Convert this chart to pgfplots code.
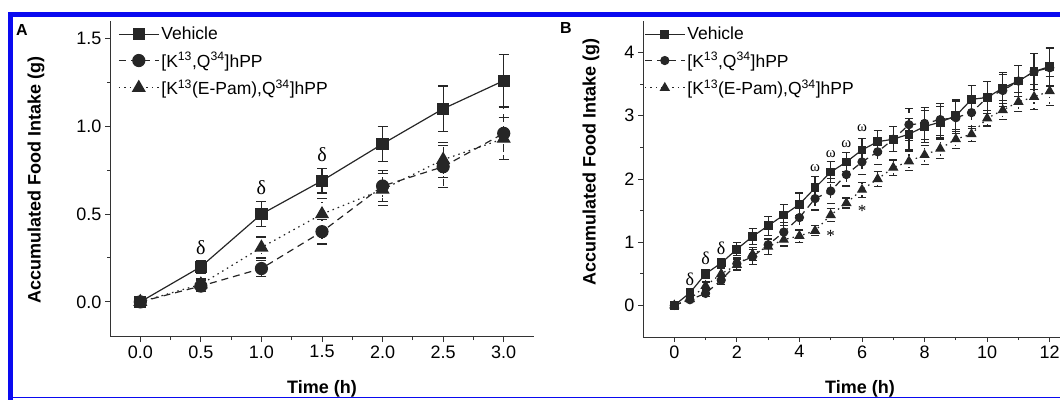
\documentclass[border=0pt]{standalone}
\usepackage{pgfplots}
\pgfplotsset{compat=1.18}
\usepackage{fontspec}
\setmainfont{Liberation Sans}
\newfontfamily\sergreek{Liberation Serif}
\definecolor{frameblue}{RGB}{10,10,240}
\tikzset{ann/.style={font=\sergreek\fontsize{#1}{#1}\selectfont, inner sep=0pt}}
\begin{document}
\begin{tikzpicture}[x=1pt,y=1pt]
\path[use as bounding box] (0,0) rectangle (1060,399);
\clip (0,0) rectangle (1060,399);
\pgfplotsset{
  every axis/.append style={
    scale only axis,
    axis x line*=bottom, axis y line*=left,
    axis line style={line width=1pt, black!80},
    tick align=outside,
    major tick length=5pt, minor tick length=3pt,
    every tick/.style={line width=1pt, black!80},
    minor x tick num=1, minor y tick num=1,
    ticklabel style={font=\fontsize{18}{18}\selectfont},
    /pgf/number format/assume math mode=true,
    legend cell align=left,
    legend image code/.code={\draw[mark repeat=2,mark phase=2,##1] plot coordinates {(0pt,0pt) (20pt,0pt) (40pt,0pt)};},
    error bars/y dir=both, error bars/y explicit,
    error bars/error bar style={line width=1.2pt, black!85},
  },
  veh/.style={black!85, line width=1.2pt, solid, mark=square*, mark options={solid, fill=black!85}},
  kq/.style={black!85, line width=1.2pt, dash pattern=on 7pt off 5pt, mark=*, mark options={solid, fill=black!85}},
  ep/.style={black!85, line width=1.2pt, dash pattern=on 1.5pt off 4pt, mark=triangle*, mark options={solid, fill=black!85}},
}
% ---------------- Panel A ----------------
\begin{axis}[
  at={(110pt,62pt)}, anchor=south west,
  width=424pt, height=316pt,
  xmin=-0.25, xmax=3.25, ymin=-0.2, ymax=1.6,
  xtick={0,0.5,...,3}, ytick={0,0.5,1,1.5},
  /pgf/number format/.cd, fixed, fixed zerofill, precision=1, /pgfplots/.cd,
  error bars/error mark options={rotate=90, mark size=5pt, line width=1.2pt, black!85},
  legend style={draw=none, fill=none, at={(rel axis cs:0,1)}, anchor=north west,
    xshift=5pt, yshift=-2pt, font=\fontsize{17.5}{17.5}\selectfont, row sep=7pt},
]
\addplot+[veh, mark size=5.5pt] coordinates {
 (0,0) +- (0,0) (0.5,0.20) +- (0,0.035) (1.0,0.50) +- (0,0.07) (1.5,0.69) +- (0,0.07)
 (2.0,0.90) +- (0,0.10) (2.5,1.10) +- (0,0.13) (3.0,1.26) +- (0,0.15)};
\addlegendentry{Vehicle}
\addplot+[kq, mark size=6pt] coordinates {
 (0,0) +- (0,0) (0.5,0.09) +- (0,0.03) (1.0,0.19) +- (0,0.045) (1.5,0.40) +- (0,0.07)
 (2.0,0.66) +- (0,0.09) (2.5,0.77) +- (0,0.12) (3.0,0.96) +- (0,0.15)};
\addlegendentry{[K\textsuperscript{13},Q\textsuperscript{34}]hPP}
\addplot+[ep, mark size=7pt] coordinates {
 (0,0) +- (0,0) (0.5,0.10) +- (0,0.03) (1.0,0.31) +- (0,0.06) (1.5,0.50) +- (0,0.09)
 (2.0,0.64) +- (0,0.09) (2.5,0.81) +- (0,0.10) (3.0,0.93) +- (0,0.12)};
\addlegendentry{[K\textsuperscript{13}(E-Pam),Q\textsuperscript{34}]hPP}
\node[ann=20] at (axis cs:0.5,0.31) {δ};
\node[ann=20] at (axis cs:1.0,0.65) {δ};
\node[ann=20] at (axis cs:1.5,0.84) {δ};
\end{axis}
% ---------------- Panel B ----------------
\begin{axis}[
  at={(643pt,62pt)}, anchor=south west,
  width=438pt, height=316pt,
  xmin=-1, xmax=13, ymin=-0.5, ymax=4.5,
  xtick={0,2,...,12}, ytick={0,1,2,3,4},
  error bars/error mark options={rotate=90, mark size=4pt, line width=1.2pt, black!85},
  legend style={draw=none, fill=none, at={(rel axis cs:0,1)}, anchor=north west,
    xshift=-2pt, yshift=-2pt, font=\fontsize{17.5}{17.5}\selectfont, row sep=7pt},
]
\addplot+[veh, mark size=3.8pt] coordinates {
 (0,0) +- (0,0) (0.5,0.20) +- (0,0.04) (1,0.50) +- (0,0.07) (1.5,0.67) +- (0,0.07)
 (2,0.89) +- (0,0.10) (2.5,1.09) +- (0,0.13) (3,1.26) +- (0,0.15) (3.5,1.43) +- (0,0.17)
 (4,1.60) +- (0,0.18) (4.5,1.86) +- (0,0.18) (5,2.11) +- (0,0.17) (5.5,2.27) +- (0,0.15)
 (6,2.46) +- (0,0.18) (6.5,2.59) +- (0,0.18) (7,2.63) +- (0,0.20) (7.5,2.71) +- (0,0.25)
 (8,2.83) +- (0,0.25) (8.5,2.90) +- (0,0.25) (9,3.00) +- (0,0.25) (9.5,3.26) +- (0,0.22)
 (10,3.29) +- (0,0.25) (10.5,3.44) +- (0,0.25) (11,3.55) +- (0,0.25) (11.5,3.70) +- (0,0.28)
 (12,3.78) +- (0,0.30)};
\addlegendentry{Vehicle}
\addplot+[kq, mark size=4pt] coordinates {
 (0,0) +- (0,0) (0.5,0.09) +- (0,0.03) (1,0.19) +- (0,0.045) (1.5,0.40) +- (0,0.07)
 (2,0.66) +- (0,0.09) (2.5,0.77) +- (0,0.12) (3,0.96) +- (0,0.15) (3.5,1.16) +- (0,0.15)
 (4,1.39) +- (0,0.20) (4.5,1.69) +- (0,0.18) (5,1.81) +- (0,0.20) (5.5,2.07) +- (0,0.18)
 (6,2.27) +- (0,0.20) (6.5,2.43) +- (0,0.20) (7,2.63) +- (0,0.20) (7.5,2.86) +- (0,0.25)
 (8,2.88) +- (0,0.25) (8.5,2.94) +- (0,0.25) (9,2.97) +- (0,0.25) (9.5,3.05) +- (0,0.25)
 (10,3.29) +- (0,0.25) (10.5,3.40) +- (0,0.25) (11,3.55) +- (0,0.25) (11.5,3.70) +- (0,0.28)
 (12,3.76) +- (0,0.30)};
\addlegendentry{[K\textsuperscript{13},Q\textsuperscript{34}]hPP}
\addplot+[ep, mark size=4.8pt] coordinates {
 (0,0) +- (0,0) (0.5,0.10) +- (0,0.03) (1,0.31) +- (0,0.06) (1.5,0.50) +- (0,0.09)
 (2,0.64) +- (0,0.09) (2.5,0.81) +- (0,0.10) (3,0.93) +- (0,0.12) (3.5,1.04) +- (0,0.10)
 (4,1.10) +- (0,0.10) (4.5,1.18) +- (0,0.08) (5,1.43) +- (0,0.10) (5.5,1.62) +- (0,0.08)
 (6,1.83) +- (0,0.12) (6.5,2.00) +- (0,0.12) (7,2.18) +- (0,0.12) (7.5,2.28) +- (0,0.15)
 (8,2.38) +- (0,0.15) (8.5,2.48) +- (0,0.15) (9,2.63) +- (0,0.15) (9.5,2.71) +- (0,0.12)
 (10,2.96) +- (0,0.12) (10.5,3.09) +- (0,0.15) (11,3.22) +- (0,0.15) (11.5,3.30) +- (0,0.20)
 (12,3.39) +- (0,0.23)};
\addlegendentry{[K\textsuperscript{13}(E-Pam),Q\textsuperscript{34}]hPP}
\node[ann=18] at (axis cs:0.5,0.42) {δ};
\node[ann=18] at (axis cs:1.0,0.74) {δ};
\node[ann=18] at (axis cs:1.5,0.90) {δ};
\node[ann=15] at (axis cs:4.5,2.17) {ω};
\node[ann=15] at (axis cs:5.0,2.40) {ω};
\node[ann=15] at (axis cs:5.5,2.55) {ω};
\node[ann=15] at (axis cs:6.0,2.81) {ω};
\node[ann=17] at (axis cs:5.0,1.10) {*};
\node[ann=17] at (axis cs:6.0,1.49) {*};
\end{axis}
% ---------------- labels ----------------
\node[font=\bfseries\fontsize{18}{18}\selectfont, anchor=base] at (322,6) {Time (h)};
\node[font=\bfseries\fontsize{18}{18}\selectfont, anchor=base] at (860,6) {Time (h)};
\node[font=\bfseries\fontsize{18}{18}\selectfont, rotate=90] at (36,219) {Accumulated Food Intake (g)};
\node[font=\bfseries\fontsize{18}{18}\selectfont, rotate=90] at (591,237) {Accumulated Food Intake (g)};
\node[font=\bfseries\fontsize{16}{16}\selectfont] at (22,369) {A};
\node[font=\bfseries\fontsize{16}{16}\selectfont] at (566,371) {B};
% ---------------- blue frame ----------------
\draw[frameblue, line width=4.5pt] (10.5,-5) -- (10.5,384.5) -- (1070,384.5);
\draw[frameblue, line width=1.5pt] (10,1.5) -- (1070,1.5);
\end{tikzpicture}
\end{document}
